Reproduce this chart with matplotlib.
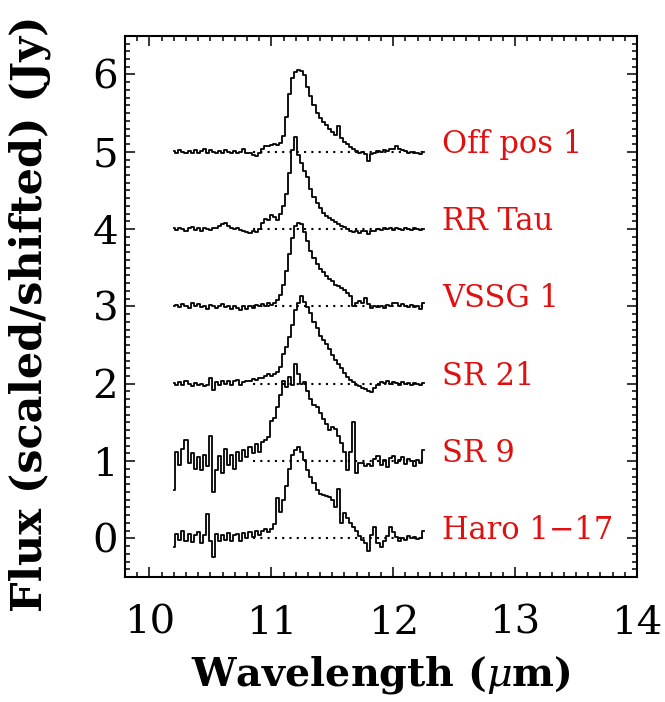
import matplotlib
matplotlib.use("Agg")
import matplotlib.pyplot as plt
import numpy as np
from matplotlib.ticker import MultipleLocator

plt.rcParams['font.family'] = 'DejaVu Serif'
plt.rcParams['mathtext.fontset'] = 'dejavuserif'

# wavelength grid of the spectra (micron)
wavelength = np.round(10.2 + 0.025 * np.arange(83), 3)

# continuum-subtracted fluxes, scaled to a peak of ~1 Jy
off_pos_1 = [0.01, -0.01, 0.02, 0.00, -0.02, 0.01, -0.01, 0.02, -0.02, 0.01,
             0.03, -0.01, 0.02, 0.00, -0.02, 0.01, -0.01, 0.02, 0.00, -0.01,
             0.01, -0.02, 0.00, 0.04, -0.01, -0.02, -0.04, -0.05, -0.02, 0.04,
             0.08, 0.07, 0.09, 0.10, 0.09, 0.12, 0.20, 0.45, 0.75, 0.95,
             1.03, 1.06, 1.05, 0.99, 0.84, 0.72, 0.61, 0.50, 0.44, 0.39,
             0.34, 0.29, 0.25, 0.22, 0.33, 0.18, 0.13, 0.10, 0.06, 0.03,
             0.01, -0.02, 0.00, -0.03, -0.12, -0.03, -0.01, 0.01, 0.00, 0.02,
             0.01, 0.03, 0.04, 0.07, 0.03, 0.02, 0.01, -0.01, 0.00, -0.02,
             -0.01, -0.03, 0.00]

rr_tau = [0.01, -0.01, 0.02, 0.00, -0.02, 0.01, 0.03, -0.01, 0.01, -0.02,
          0.02, 0.00, -0.01, 0.02, 0.01, 0.04, 0.07, 0.08, 0.04, 0.02,
          0.00, 0.02, -0.01, -0.03, -0.04, -0.05, -0.03, -0.04, 0.00, 0.08,
          0.13, 0.12, 0.18, 0.16, 0.12, 0.19, 0.30, 0.45, 0.72, 1.02,
          1.19, 0.96, 0.86, 0.75, 0.67, 0.52, 0.42, 0.34, 0.27, 0.21,
          0.17, 0.14, 0.12, 0.09, 0.06, 0.04, 0.03, 0.00, -0.02, -0.04,
          -0.02, -0.05, -0.03, -0.02, -0.06, -0.02, -0.03, 0.00, -0.01, 0.01,
          0.00, 0.02, -0.01, 0.01, 0.00, -0.01, 0.01, 0.00, -0.01, 0.01,
          0.00, -0.01, 0.00]

vssg_1 = [0.00, 0.02, -0.01, 0.03, 0.01, -0.02, 0.04, 0.00, 0.03, -0.01,
          0.01, -0.03, 0.02, 0.00, -0.02, 0.01, 0.03, -0.01, 0.00, -0.03,
          0.01, -0.02, -0.04, 0.00, -0.03, 0.01, -0.02, 0.02, 0.00, 0.03,
          0.01, 0.04, 0.02, 0.05, 0.08, 0.15, 0.28, 0.46, 0.68, 0.88,
          1.04, 1.08, 1.06, 0.96, 0.84, 0.72, 0.62, 0.55, 0.49, 0.44,
          0.39, 0.36, 0.33, 0.28, 0.26, 0.24, 0.21, 0.18, 0.14, 0.01,
          0.05, 0.07, 0.05, 0.11, 0.03, -0.02, 0.00, -0.01, 0.01, -0.02,
          0.02, 0.01, 0.04, 0.05, 0.01, 0.03, 0.00, -0.01, 0.02, -0.01,
          0.01, -0.03, 0.04]

sr_21 = [0.01, -0.02, 0.02, -0.01, 0.03, 0.00, -0.03, 0.01, -0.02, 0.00,
         -0.03, -0.01, 0.08, -0.08, 0.02, -0.01, 0.03, 0.00, 0.04, -0.02,
         0.03, 0.05, -0.01, 0.02, 0.04, 0.03, 0.06, 0.05, 0.08, 0.07,
         0.10, 0.12, 0.10, 0.12, 0.15, 0.22, 0.38, 0.48, 0.60, 0.76,
         0.95, 1.05, 1.14, 1.06, 0.99, 0.91, 0.80, 0.72, 0.62, 0.57,
         0.51, 0.45, 0.37, 0.31, 0.26, 0.20, 0.14, 0.09, 0.05, 0.02,
         -0.01, -0.03, -0.05, -0.07, -0.09, -0.11, -0.06, -0.02, 0.02, 0.01,
         0.03, 0.00, 0.02, 0.01, -0.01, 0.02, 0.00, 0.01, -0.02, 0.01,
         0.00, -0.01, 0.01]

sr_9 = [-0.38, 0.12, -0.05, 0.15, 0.27, -0.02, 0.10, -0.10, 0.05, -0.12,
        0.08, -0.06, 0.33, -0.40, -0.12, 0.06, -0.15, 0.16, -0.05, 0.08,
        -0.10, 0.12, 0.00, 0.14, 0.05, 0.18, 0.10, 0.22, 0.12, 0.25,
        0.27, 0.31, 0.52, 0.56, 0.70, 0.86, 1.04, 0.96, 1.09, 0.98,
        1.26, 1.12, 1.00, 1.02, 0.90, 0.80, 0.72, 0.70, 0.62, 0.55,
        0.48, 0.40, 0.44, 0.42, 0.33, 0.24, 0.12, -0.12, 0.12, 0.50,
        -0.16, -0.02, -0.02, -0.06, -0.04, -0.07, 0.03, 0.06, -0.05, 0.02,
        -0.08, 0.04, 0.07, -0.03, 0.02, 0.05, -0.04, 0.03, 0.00, -0.06,
        0.02, -0.03, 0.14]

haro_1_17 = [-0.11, 0.06, -0.02, 0.09, -0.04, 0.06, -0.05, 0.04, 0.08, -0.06,
             0.04, 0.32, -0.03, -0.24, 0.06, -0.04, 0.05, -0.02, 0.07, -0.03,
             0.04, 0.06, -0.03, 0.07, 0.01, 0.08, 0.02, 0.10, 0.05, 0.09,
             0.12, 0.08, 0.12, 0.18, 0.52, 0.34, 0.50, 0.68, 0.90, 1.08,
             1.14, 1.18, 1.12, 1.01, 0.89, 0.80, 0.72, 0.63, 0.57, 0.56,
             0.55, 0.53, 0.49, 0.40, 0.64, 0.20, 0.33, 0.26, 0.20, 0.15,
             0.10, 0.03, -0.02, -0.06, -0.16, 0.04, 0.15, -0.06, -0.11, -0.04,
             0.03, 0.15, 0.08, 0.02, -0.03, 0.01, -0.02, 0.03, 0.00, 0.02,
             -0.01, 0.01, 0.10]

names = ['Off pos 1', 'RR Tau', 'VSSG 1', 'SR 21', 'SR 9', 'Haro 1\u221217']
spectra = [off_pos_1, rr_tau, vssg_1, sr_21, sr_9, haro_1_17]
offsets = [5, 4, 3, 2, 1, 0]

fig = plt.figure(figsize=(6.65, 7.02), dpi=100)
ax = fig.add_axes([0.188, 0.178, 0.770, 0.771])

for name, flux, off in zip(names, spectra, offsets):
    ax.hlines(off, 10.85, 12.25, colors='black', linestyles=(0, (1, 2.5)),
              linewidth=1.5, zorder=1)
    ax.step(wavelength, np.array(flux) + off, where='mid', color='black',
            linewidth=1.3, zorder=2)
    ax.text(12.4, off + 0.1, name, color='#e01010', fontsize=22,
            ha='left', va='center')

ax.set_xlim(9.8, 14.0)
ax.set_ylim(-0.5, 6.5)
ax.xaxis.set_major_locator(MultipleLocator(1))
ax.xaxis.set_minor_locator(MultipleLocator(0.1))
ax.yaxis.set_major_locator(MultipleLocator(1))
ax.yaxis.set_minor_locator(MultipleLocator(0.1))
ax.tick_params(which='both', direction='in', top=True, right=True, width=1.1)
ax.tick_params(which='major', length=7.5, labelsize=29)
ax.tick_params(which='minor', length=3.8)
ax.tick_params(axis='x', pad=20)
ax.tick_params(axis='y', pad=5)
for sp in ax.spines.values():
    sp.set_linewidth(1.5)

fig.text(0.573, 1 - 675 / 702, r'Wavelength ($\mu$m)', fontsize=28.5,
         fontweight='bold', ha='center', va='center')
fig.text(30 / 665, 0.553, 'Flux (scaled/shifted) (Jy)', fontsize=31,
         fontweight='bold', rotation=90, ha='center', va='center')

fig.savefig('out.png', dpi=100)
